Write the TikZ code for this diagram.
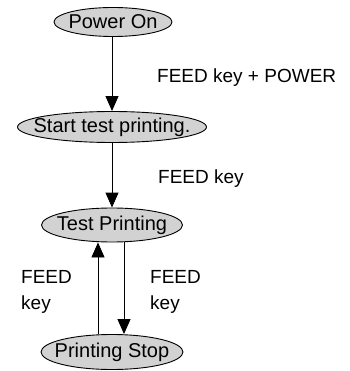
\documentclass[tikz,border=0pt]{standalone}
\usepackage{fontspec}
\setmainfont{Liberation Sans}
\usetikzlibrary{arrows.meta,shapes.geometric}

\begin{document}
\begin{tikzpicture}[x=1pt, y=-1pt, font=\fontsize{19}{26}\selectfont,
	mode/.style = {ellipse, draw, fill=gray!35, line width=0.9pt, inner sep=0pt,
		label={[font=\fontsize{20}{24}\selectfont]center:#1}},
	flow/.style = {line width=0.9pt, -{Triangle[width=13pt,length=15pt]}},
	keytext/.style = {inner sep=0pt, align=left}]
	\useasboundingbox (0,0) rectangle (349,371);
	% states
	\node [mode=Power On, minimum width=118, minimum height=29] (pon) at (113,22) {};
	\node [mode=Start test printing., minimum width=189, minimum height=31] (start) at (112,127) {};
	\node [mode=Test Printing, minimum width=141, minimum height=34] (test) at (112,225) {};
	\node [mode=Printing Stop, minimum width=142, minimum height=35] (stop) at (112,352) {};
	% transitions
	\draw [flow] (pon.south -| start.north) -- (start.north);
	\draw [flow] (start.south) -- (test.north);
	\draw [flow] ([xshift=-14]stop.north) -- ([xshift=-14]stop.north |- test.south);
	\draw [flow] ([xshift=12]test.south) -- ([xshift=12]test.south |- stop.north);
	% keys
	\node [keytext, anchor=base west] (feedpower) at (157,83) {FEED key + POWER};
	\node [keytext, anchor=base west] (feedkey) at (158,183) {FEED key};
	\node [keytext, anchor=west] (feedleft) at (21,292) {FEED\\key};
	\node [keytext, anchor=west] (feedright) at (150,292) {FEED\\key};
\end{tikzpicture}
\end{document}
